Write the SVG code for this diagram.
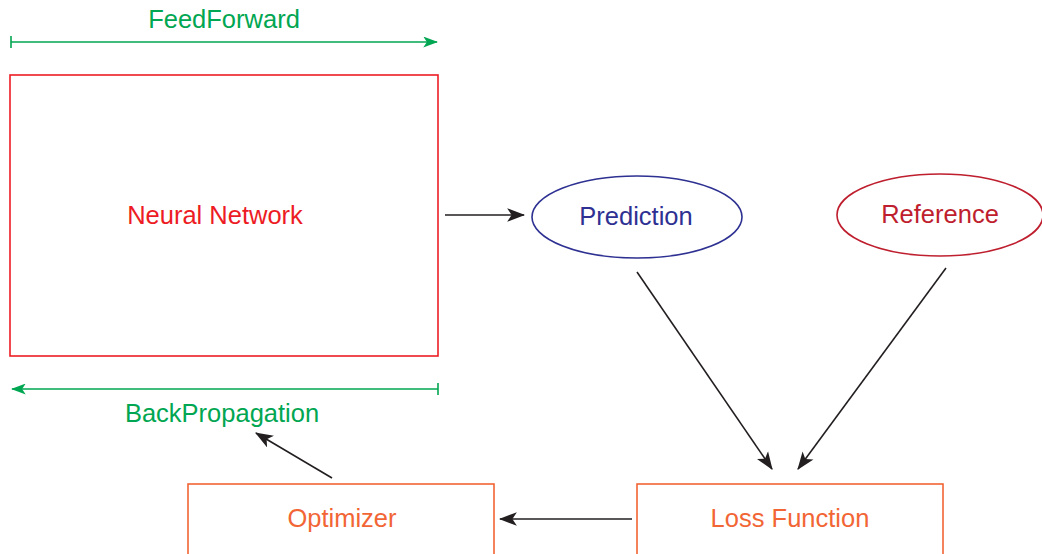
<svg xmlns="http://www.w3.org/2000/svg" width="1042" height="554" viewBox="0 0 1042 554">
  <style>
    text { font-family: "Liberation Sans", Arial, sans-serif; font-size: 25.5px; text-anchor: middle; }
    .green { fill: #00a651; }
    .gline { stroke: #00a651; stroke-width: 1.6; fill: none; }
    .conn { stroke: #231f20; stroke-width: 1.6; fill: none; marker-end: url(#head); }
  </style>
  <defs>
    <marker id="head" viewBox="0 0 16 12" refX="15" refY="6" markerWidth="18" markerHeight="14" markerUnits="userSpaceOnUse" orient="auto">
      <path d="M0,0 L16,6 L0,12 L4,6 Z" fill="#231f20"/>
    </marker>
    <marker id="ghead" viewBox="0 0 16 12" refX="15" refY="6" markerWidth="15" markerHeight="11" markerUnits="userSpaceOnUse" orient="auto">
      <path d="M0,0 L16,6 L0,12 L4,6 Z" fill="#00a651"/>
    </marker>
  </defs>

  <!-- forward pass indicator -->
  <g id="feedforward">
    <text class="green" x="224" y="28">FeedForward</text>
    <line class="gline" x1="11" y1="42" x2="437" y2="42" marker-end="url(#ghead)"/>
    <line class="gline" x1="11" y1="36" x2="11" y2="48"/>
  </g>

  <g id="neural-network">
    <rect x="10" y="75" width="428" height="281" fill="none" stroke="#ed1c24" stroke-width="1.6"/>
    <text x="215" y="224" fill="#ed1c24">Neural Network</text>
  </g>

  <!-- backward pass indicator -->
  <g id="backpropagation">
    <line class="gline" x1="438" y1="389" x2="12" y2="389" marker-end="url(#ghead)"/>
    <line class="gline" x1="438" y1="383" x2="438" y2="395"/>
    <text class="green" x="222" y="422">BackPropagation</text>
  </g>

  <g id="prediction">
    <ellipse cx="637" cy="217" rx="105" ry="41" fill="none" stroke="#2e3192" stroke-width="1.6"/>
    <text x="636" y="225" fill="#2e3192">Prediction</text>
  </g>

  <g id="reference">
    <ellipse cx="940" cy="215" rx="103" ry="41" fill="none" stroke="#be1e2d" stroke-width="1.6"/>
    <text x="940" y="223" fill="#be1e2d">Reference</text>
  </g>

  <g id="loss-function">
    <rect x="637" y="484" width="306" height="72" fill="none" stroke="#f26535" stroke-width="1.6"/>
    <text x="790" y="527" fill="#f26535">Loss Function</text>
  </g>

  <g id="optimizer">
    <rect x="188" y="484" width="306" height="72" fill="none" stroke="#f26535" stroke-width="1.6"/>
    <text x="342" y="527" fill="#f26535">Optimizer</text>
  </g>

  <g id="connectors">
    <line class="conn" x1="445" y1="215" x2="524" y2="215"/>
    <line class="conn" x1="637" y1="272" x2="772" y2="469"/>
    <line class="conn" x1="946" y1="268" x2="798" y2="469"/>
    <line class="conn" x1="632" y1="519" x2="500" y2="519"/>
    <line class="conn" x1="332" y1="478" x2="256" y2="433"/>
  </g>
</svg>
